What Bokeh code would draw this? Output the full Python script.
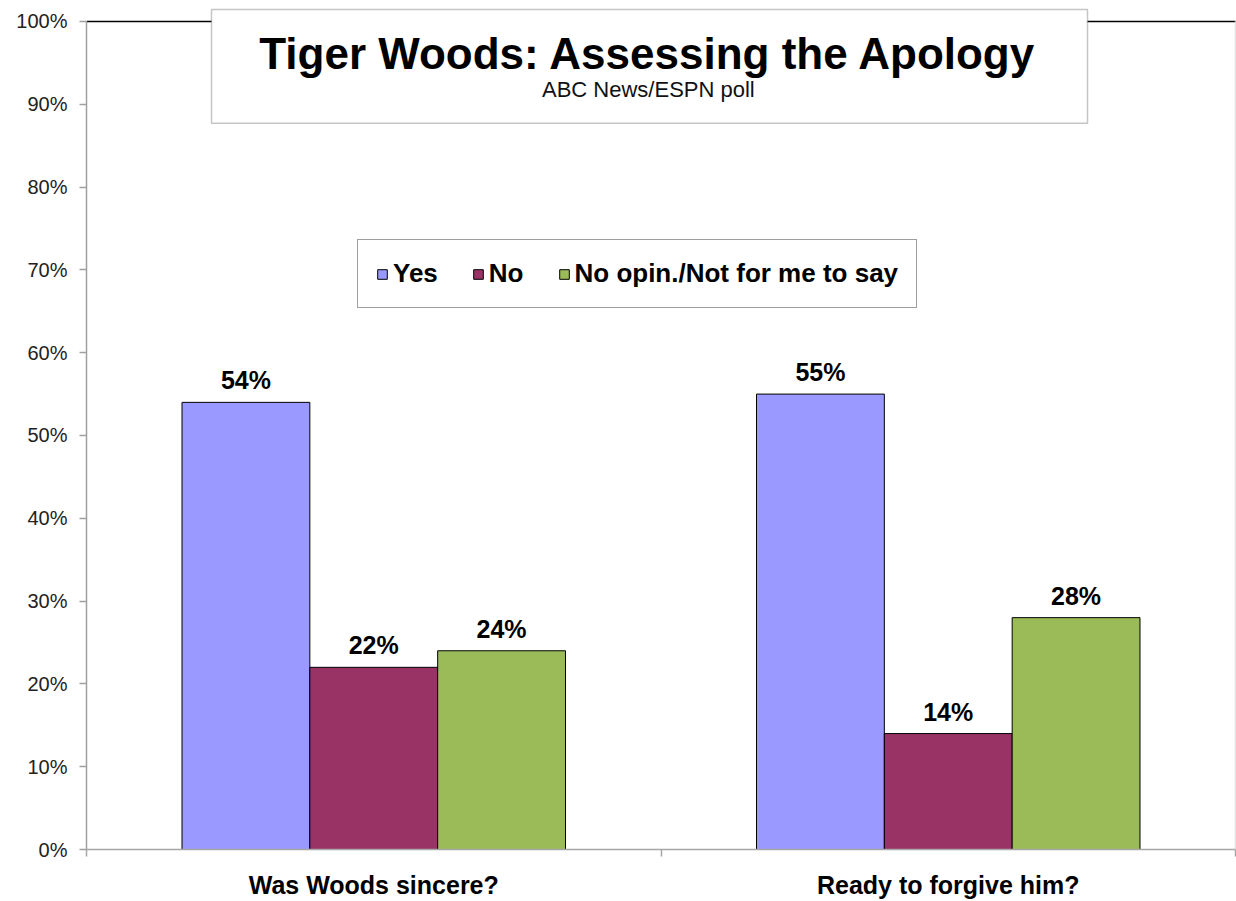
from bokeh.plotting import figure
from bokeh.models import (Range1d, FixedTicker, PrintfTickFormatter, BoxAnnotation,
                          Label, ColumnDataSource, LabelSet)
from bokeh.core.properties import value
from bokeh.embed import file_html
from bokeh.resources import INLINE

# ---- data ----
categories = ["Was Woods sincere?", "Ready to forgive him?"]
series_names = ["Yes", "No", "No opin./Not for me to say"]
yes = [54, 55]
no = [22, 14]
no_opinion = [24, 28]
y_ticks = [0, 10, 20, 30, 40, 50, 60, 70, 80, 90, 100]
title_text = "Tiger Woods: Assessing the Apology"
subtitle_text = "ABC News/ESPN poll"

colors = ["#9999FF", "#993366", "#9BBB59"]
FONT = "Liberation Sans"

p = figure(width=1236, height=901, output_backend="svg", toolbar_location=None,
           x_range=Range1d(0, 2.00174), y_range=Range1d(0, 102.533),
           min_border_left=86, min_border_right=0, min_border_top=0, min_border_bottom=51)
p.background_fill_color = "white"
p.border_fill_color = "white"
p.outline_line_color = None
p.xgrid.visible = False
p.ygrid.visible = False

bar_w = 0.2225
offsets = [-bar_w, 0.0, bar_w]
series = [yes, no, no_opinion]
for name, vals, off, col in zip(series_names, series, offsets, colors):
    xs = [i + 0.5 + off for i in range(len(categories))]
    src = ColumnDataSource(dict(x=xs, top=vals, lab=[f"{v}%" for v in vals]))
    p.vbar(x="x", top="top", width=bar_w, bottom=0, source=src, fill_color=col,
           line_color="black", line_width=1, legend_label=name)
    p.add_layout(LabelSet(x="x", y="top", text="lab", source=src, text_align="center",
                          text_baseline="alphabetic", y_offset=13,
                          text_font=value(FONT), text_font_size=value("25px"),
                          text_font_style=value("bold"), text_color=value("black")))

# frame lines
p.segment(x0=[0], y0=[100], x1=[2], y1=[100], line_color="black", line_width=1.5)
p.segment(x0=[1.9995], y0=[0], x1=[1.9995], y1=[100], line_color="#D9D9D9", line_width=1)

# y axis
yax = p.yaxis[0]
yax.ticker = FixedTicker(ticks=y_ticks)
yax.formatter = PrintfTickFormatter(format="%d%%")
yax.bounds = (0, 100)
yax.axis_line_color = "#A0A0A0"
yax.axis_line_width = 1.5
yax.major_tick_line_color = "#A0A0A0"
yax.major_tick_line_width = 1.5
yax.major_tick_out = 7
yax.major_tick_in = 0
yax.minor_tick_line_color = None
yax.major_label_standoff = 12
yax.major_label_text_font = FONT
yax.major_label_text_font_size = "20px"
yax.major_label_text_color = "#222222"

# x axis
xax = p.xaxis[0]
xax.ticker = FixedTicker(ticks=[0.5, 1.5], minor_ticks=[0, 1, 2])
xax.major_label_overrides = {0.5: categories[0], 1.5: categories[1]}
xax.bounds = (0, 2)
xax.axis_line_color = "#A6A6A6"
xax.axis_line_width = 1.5
xax.major_tick_line_color = None
xax.major_tick_out = 0
xax.major_tick_in = 0
xax.minor_tick_line_color = "#A6A6A6"
xax.minor_tick_line_width = 1.5
xax.minor_tick_out = 7
xax.minor_tick_in = 0
xax.major_label_standoff = 14
xax.major_label_text_font = FONT
xax.major_label_text_font_size = "25px"
xax.major_label_text_font_style = "bold"
xax.major_label_text_color = "black"

# title box
p.add_layout(BoxAnnotation(left=0.2176, right=1.7424, bottom=87.70, top=101.45,
                           fill_color="white", fill_alpha=1.0,
                           line_color="#404040", line_width=1.5))
p.add_layout(Label(x=0.978, y=96.1, text=title_text, text_align="center",
                   text_baseline="alphabetic", text_font=FONT, text_font_size="44px",
                   text_font_style="bold", text_color="black"))
p.add_layout(Label(x=0.978, y=91.75, text=subtitle_text, text_align="center",
                   text_baseline="alphabetic", text_font=FONT, text_font_size="22px",
                   text_color="#111111"))

# legend
lg = p.legend[0]
lg.orientation = "horizontal"
lg.location = (271, 541)
lg.label_text_font = FONT
lg.label_text_font_size = "26px"
lg.label_text_font_style = "bold"
lg.label_text_color = "black"
lg.glyph_width = 12
lg.glyph_height = 12
lg.label_standoff = 5
lg.spacing = 34
lg.padding = 18
lg.margin = 0
lg.border_line_color = "#404040"
lg.border_line_width = 1.5
lg.background_fill_color = "white"
lg.background_fill_alpha = 1.0

open("out.html", "w").write(file_html(p, INLINE))
